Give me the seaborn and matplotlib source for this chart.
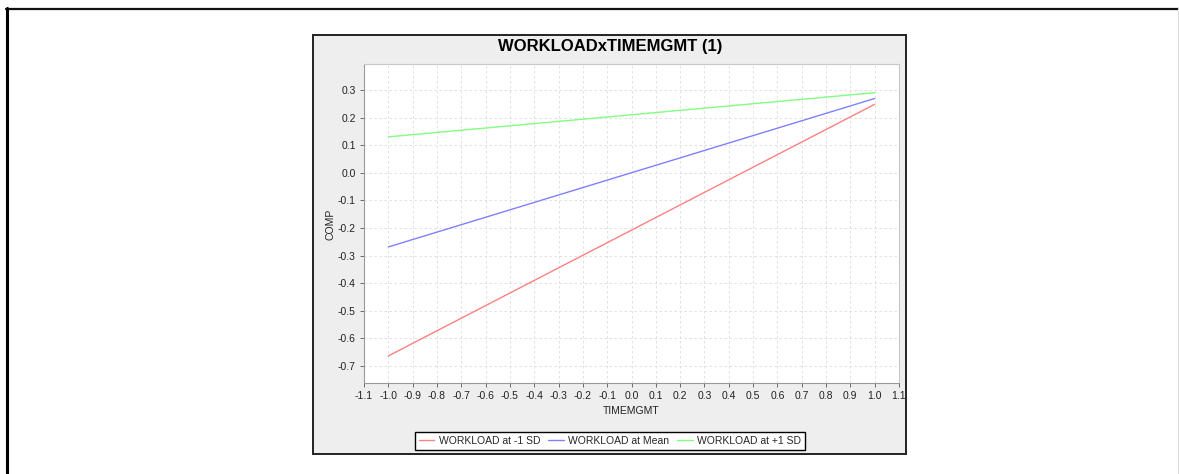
import pandas as pd
import numpy as np
import matplotlib
matplotlib.use('Agg')
import matplotlib.pyplot as plt
from matplotlib.patches import Rectangle
from matplotlib.lines import Line2D
import seaborn as sns

# dados
timemgmt = [-1.0, 1.0]
comp_low = [-0.664, 0.248]    # WORKLOAD at -1 SD
comp_mean = [-0.269, 0.269]   # WORKLOAD at Mean
comp_high = [0.130, 0.290]    # WORKLOAD at +1 SD
series_names = ['WORKLOAD at -1 SD', 'WORKLOAD at Mean', 'WORKLOAD at +1 SD']
series_colors = ['#ff8080', '#8080ff', '#80ff80']
x_ticks = [round(v, 1) + 0.0 for v in np.arange(-1.1, 1.11, 0.1)]
y_ticks = [round(v, 1) + 0.0 for v in np.arange(-0.7, 0.31, 0.1)]

df = pd.DataFrame({
    'TIMEMGMT': timemgmt * 3,
    'COMP': comp_low + comp_mean + comp_high,
    'serie': [series_names[0]] * 2 + [series_names[1]] * 2 + [series_names[2]] * 2,
})

sns.set_style('white')
plt.rcParams['font.family'] = ['Liberation Sans', 'DejaVu Sans']

W, H = 1179, 474
fig = plt.figure(figsize=(W / 100, H / 100), dpi=100)

def fx(px):
    return px / W

def fy(py):
    return 1 - py / H

def fmt(v):
    s = f'{v:.1f}'
    return '0.0' if s == '-0.0' else s

# moldura externa
fig.add_artist(Line2D([fx(6), fx(1179)], [fy(8.5), fy(8.5)], color='#111111', lw=1.6))
fig.add_artist(Line2D([fx(6.5), fx(6.5)], [fy(8), fy(474)], color='#000000', lw=2.2))
fig.add_artist(Line2D([fx(1178), fx(1178)], [fy(8), fy(474)], color='#dddddd', lw=0.8))

# painel cinza do grafico
fig.add_artist(Rectangle((fx(313), fy(454)), fx(906) - fx(313), fy(35) - fy(454),
                         transform=fig.transFigure, facecolor='#eeeeee',
                         edgecolor='#222222', lw=1.4, zorder=0))

ax = fig.add_axes([fx(364), fy(383), fx(899) - fx(364), fy(64) - fy(383)])
ax.set_facecolor('white')

sns.lineplot(data=df, x='TIMEMGMT', y='COMP', hue='serie',
             palette=series_colors, linewidth=1.0, ax=ax)

ax.set_xlim(-1.1, 1.1)
ax.set_ylim(-0.762, 0.394)
ax.set_xticks(x_ticks)
ax.set_yticks(y_ticks)
ax.set_xticklabels([fmt(v) for v in x_ticks])
ax.set_yticklabels([fmt(v) for v in y_ticks])
ax.tick_params(axis='both', labelsize=7.5, colors='#555555', length=3, width=0.6,
               direction='out', pad=3, labelcolor='#222222')
ax.tick_params(axis='both', which='both', bottom=True, left=True)
ax.grid(True, color='#dcdcdc', linestyle=(0, (3, 3)), linewidth=0.6)
for side, sp in ax.spines.items():
    sp.set_color('#c8c8c8')
    sp.set_linewidth(0.8)
ax.spines['left'].set_color('#999999')
ax.spines['bottom'].set_color('#999999')

ax.set_xlabel('')
ax.set_ylabel('')
fig.text(fx(631), fy(411), 'TIMEMGMT', ha='center', va='center', fontsize=7.5, color='#222222')
fig.text(fx(331), fy(224), 'COMP', ha='center', va='center', rotation=90, fontsize=7.5, color='#222222')
fig.text(fx(610), fy(47), 'WORKLOADxTIMEMGMT (1)', ha='center', va='center',
         fontsize=12, fontweight='bold', color='black')

handles, labels = ax.get_legend_handles_labels()
ax.get_legend().remove()
leg = fig.legend(handles, labels, loc='center', bbox_to_anchor=(fx(610), fy(441)),
                 ncol=3, fontsize=7.5, frameon=True, fancybox=False,
                 handlelength=1.5, handletextpad=0.4, columnspacing=0.8,
                 borderpad=0.35, borderaxespad=0)
leg.get_frame().set_edgecolor('black')
leg.get_frame().set_linewidth(1.0)
leg.get_frame().set_facecolor('white')
leg.get_frame().set_alpha(1)

fig.savefig('out.png', dpi=100, facecolor='white')
